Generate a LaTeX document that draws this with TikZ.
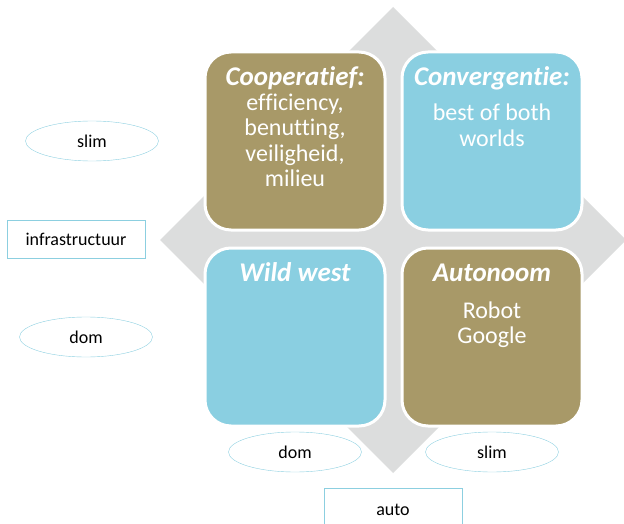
\documentclass[tikz,border=0pt]{standalone}
\usepackage{fontspec}
\setmainfont[Ligatures=NoCommon]{Carlito}
\usepackage{tikz}
\usetikzlibrary{positioning,shapes.geometric}

\definecolor{tilebrown}{HTML}{A89968}
\definecolor{tileblue}{HTML}{8ACFE1}
\definecolor{edgeblue}{HTML}{8CCFE0}
\definecolor{crossgray}{HTML}{DCDDDD}

\begin{document}
\begin{tikzpicture}[x=1pt, y=-1pt,
    tile/.style={draw=white, line width=3pt, fill=#1, rounded corners=26pt,
                 minimum width=180pt, minimum height=178pt, inner sep=0pt},
    head/.style={text=white, font=\fontsize{27}{30}\selectfont\bfseries\itshape,
                 inner sep=0pt, anchor=base},
    % base of a multi-line body is its last line
    body/.style={text=white, font=\fontsize{24}{25.5}\selectfont, align=center,
                 inner sep=0pt, anchor=base},
    oval/.style={ellipse, draw=edgeblue, minimum width=133pt, minimum height=40pt,
                 inner sep=0pt, font=\fontsize{18}{20}\selectfont},
    tag/.style={rectangle, draw=edgeblue, minimum width=138pt, minimum height=38pt,
                inner sep=0pt, font=\fontsize{18}{20}\selectfont}]
  \useasboundingbox (0,0) rectangle (624,524);

  % grey diamond behind the quadrants
  \fill[crossgray] (393,7) -- (626,240) -- (393,473) -- (160,240) -- cycle;

  % the four quadrants
  \foreach \name/\x/\y/\col in {coop/295/141/tilebrown, conv/492/141/tileblue,
                                wild/295/337/tileblue, auton/492/337/tilebrown}
    \node[tile=\col] (\name) at (\x,\y) {};

  \node[head] (coophead) at ([yshift=-35pt]coop.north) {Cooperatief:};
  \node[body] (coopbody) at ([yshift=-101pt]coophead.base) {efficiency,\\benutting,\\veiligheid,\\milieu};

  \node[head] (convhead) at ([yshift=-35pt]conv.north) {Convergentie:};
  \node[body] (convbody) at ([yshift=-61pt]convhead.base) {best of both\\worlds};

  \node[head] (wildhead) at ([yshift=-35pt]wild.north) {Wild west};

  \node[head] (autonhead) at ([yshift=-35pt]auton.north) {Autonoom};
  \node[body] (autonbody) at ([yshift=-62pt]autonhead.base) {Robot\\Google};

  % axis labels
  \node[oval] (infraslim) at (92,141) {slim};
  \node[tag] (infra) at (76,239) {infrastructuur};
  \node[oval] (infradom) at (86,337) {dom};

  \node[oval] (autodom) at (295,452) {dom};
  \node[oval] (autoslim) at (492,452) {slim};
  \node[tag, anchor=north, minimum height=44pt] (auto) at (393,488) {auto};
\end{tikzpicture}
\end{document}
